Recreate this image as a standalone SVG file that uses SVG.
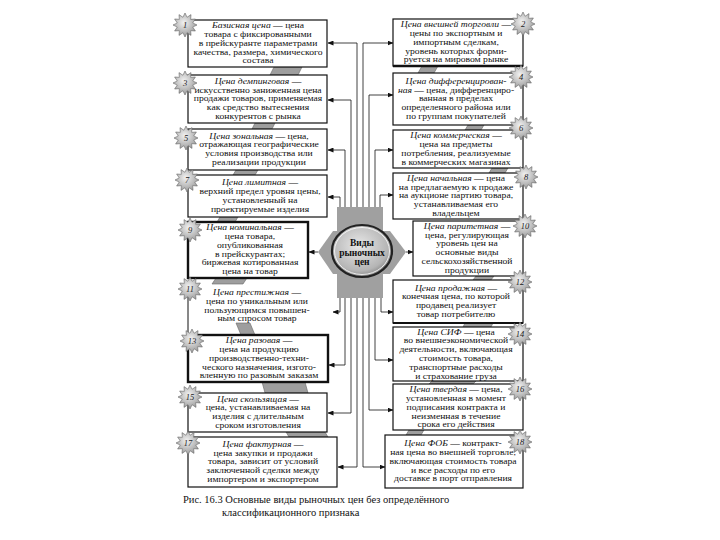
<svg xmlns="http://www.w3.org/2000/svg" width="720" height="540" viewBox="0 0 720 540">
<style>
text{font-family:"Liberation Serif","Times New Roman",serif;font-size:7.9px;fill:#111;text-anchor:middle}
.i{font-style:italic}
.box{fill:#fff;stroke:#111;stroke-width:1.2}
.thk{stroke-width:2.4}
.step{fill:#9e9e9e;stroke:#666;stroke-width:0.6}
.num{font-style:italic;font-size:8.5px;fill:#222}
.con{fill:none;stroke:#111;stroke-width:0.8}
.cap{font-size:10.5px;text-anchor:start}
.ctr{font-weight:bold;font-size:9.5px}
</style>
<defs>
<marker id="arr" markerWidth="6" markerHeight="5" refX="5.5" refY="2.5" orient="auto" markerUnits="userSpaceOnUse"><path d="M0,0 L6,2.5 L0,5 z" fill="#111"/></marker>
<radialGradient id="gs" cx="0.45" cy="0.4" r="0.6"><stop offset="0" stop-color="#f2f2f2"/><stop offset="1" stop-color="#9a9a9a"/></radialGradient>
<radialGradient id="gc" cx="0.45" cy="0.4" r="0.6"><stop offset="0" stop-color="#e8e8e8"/><stop offset="0.8" stop-color="#b5b5b5"/><stop offset="1" stop-color="#8a8a8a"/></radialGradient>
<polygon id="star" points="12,0 7.73,2.07 10.39,6 5.66,5.66 6,10.39 2.07,7.73 0,12 -2.07,7.73 -6,10.39 -5.66,5.66 -10.39,6 -7.73,2.07 -12,0 -7.73,-2.07 -10.39,-6 -5.66,-5.66 -6,-10.39 -2.07,-7.73 0,-12 2.07,-7.73 6,-10.39 5.66,-5.66 10.39,-6 7.73,-2.07" fill="url(#gs)" stroke="#666" stroke-width="0.6"/>
</defs>

<g id="steps">
<polygon class="step" points="274,67 302,67 298,75 270,75"/>
<polygon class="step" points="255,123 275,123 272,129 252,129"/>
<polygon class="step" points="236,170 258,170 255,175 233,175"/>
<polygon class="step" points="220,217 238,217 235,222 217,222"/>
<polygon class="step" points="216,278 247,278 243,284 212,284"/>
<polygon class="step" points="236,323 250,323 255,335 241,335"/>
<polygon class="step" points="262,382 305,382 308,393 265,393"/>
<polygon class="step" points="286,432 325,432 328,437 289,437"/>
<polygon class="step" points="422,66 438,66 434,73 418,73"/>
<polygon class="step" points="468,125 484,125 481,130 465,130"/>
<polygon class="step" points="492,168 508,168 505,173 489,173"/>
<polygon class="step" points="476,276 494,276 491,280 473,280"/>
<polygon class="step" points="465,323 493,323 491,327 463,327"/>
<polygon class="step" points="432,381 476,381 473,384 429,384"/>
<polygon class="step" points="409,430 424,430 421,435 406,435"/>
</g>

<g id="connectors">
<path class="con" d="M357,207 V43 H328" marker-end="url(#arr)"/>
<path class="con" d="M351,207 V100 H328" marker-end="url(#arr)"/>
<path class="con" d="M345,207 V150 H328" marker-end="url(#arr)"/>
<path class="con" d="M340,207 V197 H328" marker-end="url(#arr)"/>
<path class="con" d="M363,207 V43 H393" marker-end="url(#arr)"/>
<path class="con" d="M369,207 V95 H393" marker-end="url(#arr)"/>
<path class="con" d="M375,207 V150 H393" marker-end="url(#arr)"/>
<path class="con" d="M380,207 V195 H393" marker-end="url(#arr)"/>
<path class="con" d="M318,252 H309" marker-end="url(#arr)"/>
<path class="con" d="M406,252 H413" marker-end="url(#arr)"/>
<path class="con" d="M340,298 V312 H333" marker-end="url(#arr)"/>
<path class="con" d="M345,298 V365 H329" marker-end="url(#arr)"/>
<path class="con" d="M351,298 V413 H328" marker-end="url(#arr)"/>
<path class="con" d="M357,298 V467 H338" marker-end="url(#arr)"/>
<path class="con" d="M363,298 V467 H385" marker-end="url(#arr)"/>
<path class="con" d="M369,298 V410 H393" marker-end="url(#arr)"/>
<path class="con" d="M375,298 V360 H393" marker-end="url(#arr)"/>
<path class="con" d="M381,298 V312 H393" marker-end="url(#arr)"/>
</g>

<g id="center">
<polygon points="318,252 333,231 390,231 406,252 390,274 333,274" fill="#a0a0a0"/>
<rect x="337" y="207" width="46" height="91" fill="#a0a0a0"/>
<ellipse cx="362" cy="251" rx="30" ry="26" fill="url(#gc)" stroke="#222" stroke-width="2.2"/>
<ellipse cx="362" cy="251" rx="27.5" ry="23.5" fill="none" stroke="#fff" stroke-width="0.8"/>
<text class="ctr" x="362" y="246">Виды</text>
<text class="ctr" x="362" y="256">рыночных</text>
<text class="ctr" x="362" y="265">цен</text>
</g>

<g id="n1">
<rect class="box" x="188" y="20" width="139" height="47" stroke-width="1.6"/>
<g transform="translate(258 0) scale(1.22 1)">
<text x="0" y="28.3"><tspan class="i">Базисная цена</tspan> — цена</text>
<text x="0" y="37.1">товара с фиксированными</text>
<text x="0" y="45.9">в прейскуранте параметрами</text>
<text x="0" y="54.7">качества, размера, химического</text>
<text x="0" y="63.5">состава</text>
</g>
<use href="#star" x="185" y="25"/><text class="num" x="185" y="28">1</text>
</g>
<g id="n3">
<rect class="box" x="188" y="75" width="139" height="48" stroke-width="1.6"/>
<g transform="translate(258 0) scale(1.22 1)">
<text x="0" y="83.8"><tspan class="i">Цена демпинговая</tspan> —</text>
<text x="0" y="92.6">искусственно заниженная цена</text>
<text x="0" y="101.4">продажи товаров, применяемая</text>
<text x="0" y="110.2">как средство вытеснения</text>
<text x="0" y="119">конкурентов с рынка</text>
</g>
<use href="#star" x="185" y="83"/><text class="num" x="185" y="86">3</text>
</g>
<g id="n5">
<rect class="box" x="188" y="129" width="139" height="41" stroke-width="1"/>
<g transform="translate(259 0) scale(1.22 1)">
<text x="0" y="138.7"><tspan class="i">Цена зональная</tspan> — цена,</text>
<text x="0" y="147.5">отражающая географические</text>
<text x="0" y="156.3">условия производства или</text>
<text x="0" y="165.1">реализации продукции</text>
</g>
<use href="#star" x="186" y="138"/><text class="num" x="186" y="141">5</text>
</g>
<g id="n7">
<rect class="box" x="188" y="175" width="139" height="42" stroke-width="1"/>
<g transform="translate(260 0) scale(1.22 1)">
<text x="0" y="185.2"><tspan class="i">Цена лимитная</tspan> —</text>
<text x="0" y="194">верхний предел уровня цены,</text>
<text x="0" y="202.8">установленный на</text>
<text x="0" y="211.6">проектируемые изделия</text>
</g>
<use href="#star" x="187" y="180"/><text class="num" x="187" y="183">7</text>
</g>
<g id="n9">
<rect class="box thk" x="188" y="222" width="120" height="56"/>
<g transform="translate(250 0) scale(1.22 1)">
<text x="0" y="230.3"><tspan class="i">Цена номинальная</tspan> —</text>
<text x="0" y="239.1">цена товара,</text>
<text x="0" y="247.9">опубликованная</text>
<text x="0" y="256.7">в прейскурантах;</text>
<text x="0" y="265.5">биржевая котированная</text>
<text x="0" y="274.3">цена на товар</text>
</g>
<use href="#star" x="190" y="230"/><text class="num" x="190" y="233">9</text>
</g>
<g id="n11">
<line x1="188" y1="284" x2="188" y2="335" stroke="#111" stroke-width="1"/>
<g transform="translate(257 0) scale(1.22 1)">
<text x="0" y="295"><tspan class="i">Цена престижная</tspan> —</text>
<text x="0" y="303.8">цена по уникальным или</text>
<text x="0" y="312.6">пользующимся повышен-</text>
<text x="0" y="321.4">ным спросом товар</text>
</g>
<use href="#star" x="190" y="289"/><text class="num" x="190" y="292">11</text>
</g>
<g id="n13">
<rect class="box thk" x="188" y="335" width="140" height="47"/>
<g transform="translate(259 0) scale(1.22 1)">
<text x="0" y="343.3"><tspan class="i">Цена разовая</tspan> —</text>
<text x="0" y="352.1">цена на продукцию</text>
<text x="0" y="360.9">производственно-техни-</text>
<text x="0" y="369.7">ческого назначения, изгото-</text>
<text x="0" y="378.5">вленную по разовым заказам</text>
</g>
<use href="#star" x="192" y="341"/><text class="num" x="192" y="344">13</text>
</g>
<g id="n15">
<rect class="box" x="188" y="393" width="139" height="39" stroke-width="1.6"/>
<g transform="translate(258 0) scale(1.22 1)">
<text x="0" y="401.7"><tspan class="i">Цена скользящая</tspan> —</text>
<text x="0" y="410.5">цена, устанавливаемая на</text>
<text x="0" y="419.3">изделия с длительным</text>
<text x="0" y="428.1">сроком изготовления</text>
</g>
<use href="#star" x="190" y="397"/><text class="num" x="190" y="400">15</text>
</g>
<g id="n17">
<rect class="box" x="188" y="437" width="149" height="50" stroke-width="1.6"/>
<g transform="translate(263 0) scale(1.22 1)">
<text x="0" y="446.8"><tspan class="i">Цена фактурная</tspan> —</text>
<text x="0" y="455.6">цена закупки и продажи</text>
<text x="0" y="464.4">товара, зависит от условий</text>
<text x="0" y="473.2">заключенной сделки между</text>
<text x="0" y="482">импортером и экспортером</text>
</g>
<use href="#star" x="188" y="443"/><text class="num" x="188" y="446">17</text>
</g>

<g id="n2">
<rect class="box" x="393" y="19" width="130" height="47" stroke-width="1.4"/>
<line x1="393" y1="66" x2="523" y2="66" stroke="#111" stroke-width="2.4"/>
<g transform="translate(456 0) scale(1.22 1)">
<text x="0" y="27.3"><tspan class="i">Цена внешней торговли</tspan> —</text>
<text x="0" y="36.1">цены по экспортным и</text>
<text x="0" y="44.9">импортным сделкам,</text>
<text x="0" y="53.7">уровень которых форми-</text>
<text x="0" y="62.5">руется на мировом рынке</text>
</g>
<use href="#star" x="523" y="24"/><text class="num" x="523" y="27">2</text>
</g>
<g id="n4">
<rect class="box" x="393" y="73" width="130" height="52" stroke-width="1.6"/>
<g transform="translate(456 0) scale(1.22 1)">
<text x="0" y="83.8"><tspan class="i">Цена дифференцирован-</tspan></text>
<text x="0" y="92.6"><tspan class="i">ная</tspan> — цена, дифференциро-</text>
<text x="0" y="101.4">ванная в пределах</text>
<text x="0" y="110.2">определенного района или</text>
<text x="0" y="119">по группам покупателей</text>
</g>
<use href="#star" x="521" y="77"/><text class="num" x="521" y="80">4</text>
</g>
<g id="n6">
<rect class="box" x="393" y="130" width="130" height="38" stroke-width="1"/>
<g transform="translate(456 0) scale(1.22 1)">
<text x="0" y="138.2"><tspan class="i">Цена коммерческая</tspan> —</text>
<text x="0" y="147">цена на предметы</text>
<text x="0" y="155.8">потребления, реализуемые</text>
<text x="0" y="164.6">в коммерческих магазинах</text>
</g>
<use href="#star" x="521" y="128"/><text class="num" x="521" y="131">6</text>
</g>
<g id="n8">
<rect class="box" x="393" y="173" width="130" height="46" stroke-width="1.4"/>
<g transform="translate(456 0) scale(1.22 1)">
<text x="0" y="180.8"><tspan class="i">Цена начальная</tspan> — цена</text>
<text x="0" y="189.6">на предлагаемую к продаже</text>
<text x="0" y="198.4">на аукционе партию товара,</text>
<text x="0" y="207.2">устанавливаемая его</text>
<text x="0" y="216">владельцем</text>
</g>
<use href="#star" x="526" y="177"/><text class="num" x="526" y="180">8</text>
</g>
<g id="n10">
<rect class="box" x="413" y="221" width="110" height="55" stroke-width="1.4"/>
<g transform="translate(467 0) scale(1.22 1)">
<text x="0" y="228.9"><tspan class="i">Цена паритетная</tspan> —</text>
<text x="0" y="237.7">цена, регулирующая</text>
<text x="0" y="246.5">уровень цен на</text>
<text x="0" y="255.3">основные виды</text>
<text x="0" y="264.1">сельскохозяйственной</text>
<text x="0" y="272.9">продукции</text>
</g>
<use href="#star" x="525" y="226"/><text class="num" x="525" y="229">10</text>
</g>
<g id="n12">
<rect class="box" x="393" y="280" width="130" height="43" stroke-width="0.9"/>
<line x1="393" y1="323" x2="523" y2="323" stroke="#111" stroke-width="2"/>
<g transform="translate(456 0) scale(1.22 1)">
<text x="0" y="290.7"><tspan class="i">Цена продажная</tspan> —</text>
<text x="0" y="299.5">конечная цена, по которой</text>
<text x="0" y="308.3">продавец реализует</text>
<text x="0" y="317.1">товар потребителю</text>
</g>
<use href="#star" x="520" y="282"/><text class="num" x="520" y="285">12</text>
</g>
<g id="n14">
<rect class="box" x="393" y="327" width="130" height="54" stroke-width="2"/>
<g transform="translate(456 0) scale(1.22 1)">
<text x="0" y="334.7"><tspan class="i">Цена СИФ</tspan> — цена</text>
<text x="0" y="343.5">во внешнеэкономической</text>
<text x="0" y="352.3">деятельности, включающая</text>
<text x="0" y="361.1">стоимость товара,</text>
<text x="0" y="369.9">транспортные расходы</text>
<text x="0" y="378.7">и страхование груза</text>
</g>
<use href="#star" x="520" y="334"/><text class="num" x="520" y="337">14</text>
</g>
<g id="n16">
<rect class="box" x="393" y="384" width="130" height="46" stroke-width="1"/>
<g transform="translate(456 0) scale(1.22 1)">
<text x="0" y="392.3"><tspan class="i">Цена твердая</tspan> — цена,</text>
<text x="0" y="401.1">установленная в момент</text>
<text x="0" y="409.9">подписания контракта и</text>
<text x="0" y="418.7">неизменная в течение</text>
<text x="0" y="427.5">срока его действия</text>
</g>
<use href="#star" x="520" y="389"/><text class="num" x="520" y="392">16</text>
</g>
<g id="n18">
<rect class="box" x="385" y="435" width="138" height="53" stroke-width="2"/>
<g transform="translate(453 0) scale(1.22 1)">
<text x="0" y="446.3"><tspan class="i">Цена ФОБ</tspan> — контракт-</text>
<text x="0" y="455.1">ная цена во внешней торговле,</text>
<text x="0" y="463.9">включающая стоимость товара</text>
<text x="0" y="472.7">и все расходы по его</text>
<text x="0" y="481.5">доставке в порт отправления</text>
</g>
<use href="#star" x="520" y="442"/><text class="num" x="520" y="445">18</text>
</g>

<g id="caption">
<text class="cap" x="183" y="503">Рис. 16.3 Основные виды рыночных цен без определённого</text>
<text class="cap" x="222" y="516">классификационного признака</text>
</g>
</svg>
